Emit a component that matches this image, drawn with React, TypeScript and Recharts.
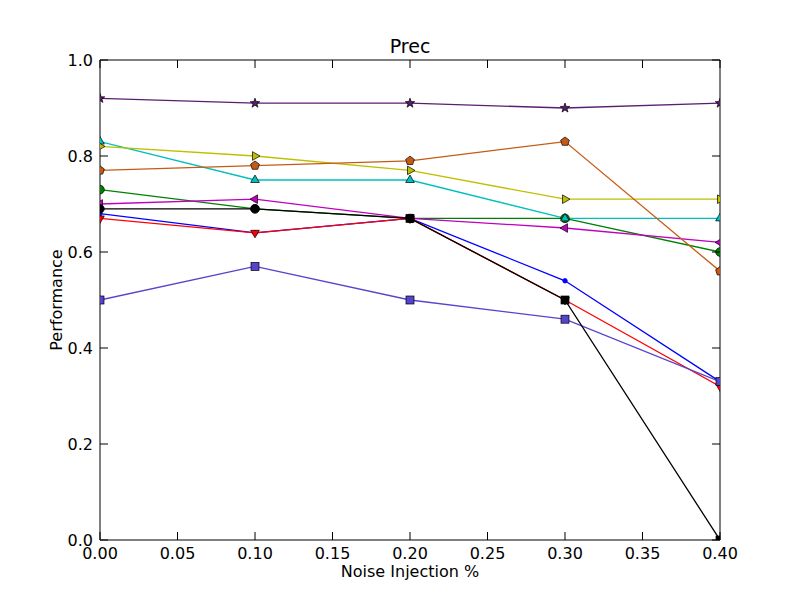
import React from 'react';
import { LineChart, Line, XAxis, YAxis } from 'recharts';

// noise injection levels on the x axis
const noise = [0.0, 0.1, 0.2, 0.3, 0.4];

// precision per series
const purpleStar = [0.92, 0.91, 0.91, 0.9, 0.91];
const yellowRight = [0.82, 0.8, 0.77, 0.71, 0.71];
const cyanUp = [0.83, 0.75, 0.75, 0.67, 0.67];
const orangePent = [0.77, 0.78, 0.79, 0.83, 0.56];
const greenCircle = [0.73, 0.69, 0.67, 0.67, 0.6];
const magentaLeft = [0.7, 0.71, 0.67, 0.65, 0.62];
const blackLine = [0.69, 0.69, 0.67, 0.5, 0.0];
const redDown = [0.67, 0.64, 0.67, 0.5, 0.32];
const bluePoint = [0.68, 0.64, 0.67, 0.54, 0.33];
const slateSquare = [0.5, 0.57, 0.5, 0.46, 0.33];

const xTicks = [0, 0.05, 0.1, 0.15, 0.2, 0.25, 0.3, 0.35, 0.4];
const yTicks = [0, 0.2, 0.4, 0.6, 0.8, 1.0];

const data = noise.map((n, i) => ({
  noise: n,
  purple: purpleStar[i],
  yellow: yellowRight[i],
  cyan: cyanUp[i],
  orange: orangePent[i],
  green: greenCircle[i],
  magenta: magentaLeft[i],
  black: blackLine[i],
  red: redDown[i],
  blue: bluePoint[i],
  slate: slateSquare[i],
}));

const FONT = '"DejaVu Sans", sans-serif';

// draw order matters: later ones sit on top
const series = [
  { key: 'blue', color: '#0000FF', shape: 'point' },
  { key: 'green', color: '#008000', shape: 'circle' },
  { key: 'red', color: '#FF0000', shape: 'down' },
  { key: 'cyan', color: '#00BFBF', shape: 'up' },
  { key: 'magenta', color: '#BF00BF', shape: 'left' },
  { key: 'yellow', color: '#BFBF00', shape: 'right' },
  { key: 'slate', color: '#5544CC', shape: 'square' },
  { key: 'orange', color: '#C65A14', shape: 'pentagon' },
  { key: 'purple', color: '#5A1E6E', shape: 'star' },
  { key: 'black', color: '#000000', shape: ['circle', 'circle', 'square', 'square', 'square'] },
];

// plot box inside the svg (margins + axis sizes below)
const PLOT = { x: 100, y: 60, w: 620, h: 480 };

function polyPoints(cx: number, cy: number, n: number, r: number, rot: number, inner?: number) {
  const pts: string[] = [];
  const count = inner ? n * 2 : n;
  for (let i = 0; i < count; i++) {
    const rr = inner && i % 2 === 1 ? inner : r;
    const a = rot + (i * 2 * Math.PI) / count;
    pts.push(`${cx + rr * Math.cos(a)},${cy + rr * Math.sin(a)}`);
  }
  return pts.join(' ');
}

function markerShape(s: string, cx: number, cy: number, color: string) {
  const edge = { fill: color, stroke: '#000', strokeWidth: 0.7 };
  const up = -Math.PI / 2;
  switch (s) {
    case 'point':
      return <circle cx={cx} cy={cy} r={2.2} fill={color} stroke={color} />;
    case 'circle':
      return <circle cx={cx} cy={cy} r={4.3} {...edge} />;
    case 'square':
      return <rect x={cx - 4} y={cy - 4} width={8} height={8} {...edge} />;
    case 'up':
      return <polygon points={polyPoints(cx, cy, 3, 5, up)} {...edge} />;
    case 'down':
      return <polygon points={polyPoints(cx, cy, 3, 5, Math.PI / 2)} {...edge} />;
    case 'left':
      return <polygon points={polyPoints(cx, cy, 3, 5, Math.PI)} {...edge} />;
    case 'right':
      return <polygon points={polyPoints(cx, cy, 3, 5, 0)} {...edge} />;
    case 'pentagon':
      return <polygon points={polyPoints(cx, cy, 5, 4.6, up)} {...edge} />;
    case 'star':
      return <polygon points={polyPoints(cx, cy, 5, 5, up, 2)} {...edge} />;
    default:
      return null;
  }
}

function markerFor(shape: any, color: string) {
  return (props: any) => {
    const { cx, cy, index } = props;
    const k = `m-${color}-${index}`;
    if (cx == null || cy == null) return <g key={k} />;
    const s = Array.isArray(shape) ? shape[index] : shape;
    return (
      <g key={k} clipPath="url(#plotClip)">
        {markerShape(s, cx, cy, color)}
      </g>
    );
  };
}

const tickText = { fontFamily: FONT, fontSize: 16, fill: '#000' };

const BottomTick = (props: any) => {
  const { x, y, payload } = props;
  return (
    <g>
      <line x1={x} y1={y} x2={x} y2={y - 8} stroke="#000" />
      <text x={x} y={y + 19} textAnchor="middle" {...tickText}>
        {Number(payload.value).toFixed(2)}
      </text>
    </g>
  );
};

const TopTick = (props: any) => {
  const { x, y } = props;
  return <line x1={x} y1={y} x2={x} y2={y + 8} stroke="#000" />;
};

const LeftTick = (props: any) => {
  const { x, y, payload } = props;
  return (
    <g>
      <line x1={x} y1={y} x2={x + 8} y2={y} stroke="#000" />
      <text x={x - 7} y={y + 6} textAnchor="end" {...tickText}>
        {Number(payload.value).toFixed(1)}
      </text>
    </g>
  );
};

const RightTick = (props: any) => {
  const { x, y } = props;
  return <line x1={x} y1={y} x2={x - 8} y2={y} stroke="#000" />;
};

export default function App() {
  return (
    <div style={{ position: 'absolute', left: 0, top: 0, width: 800, height: 600, background: '#fff' }}>
      <svg width={0} height={0} style={{ position: 'absolute' }}>
        <defs>
          <clipPath id="plotClip" clipPathUnits="userSpaceOnUse">
            <rect x={PLOT.x} y={PLOT.y} width={PLOT.w} height={PLOT.h} />
          </clipPath>
        </defs>
      </svg>
      <div
        style={{
          position: 'absolute',
          left: 0,
          width: 820,
          top: 35,
          textAlign: 'center',
          fontFamily: FONT,
          fontSize: 19,
          lineHeight: '22px',
        }}
      >
        Prec
      </div>
      <div
        style={{
          position: 'absolute',
          left: 0,
          width: 820,
          top: 562,
          textAlign: 'center',
          fontFamily: FONT,
          fontSize: 16,
          lineHeight: '20px',
        }}
      >
        Noise Injection %
      </div>
      <div
        style={{
          position: 'absolute',
          left: 57 - 100,
          top: 290,
          width: 200,
          textAlign: 'center',
          transform: 'rotate(-90deg)',
          fontFamily: FONT,
          fontSize: 16,
          lineHeight: '20px',
        }}
      >
        Performance
      </div>
      <LineChart
        width={800}
        height={600}
        data={data}
        margin={{ top: 50, right: 70, bottom: 30, left: 70 }}
        style={{ position: 'absolute', left: 0, top: 0 }}
      >
        <XAxis
          dataKey="noise"
          type="number"
          domain={[0, 0.4]}
          ticks={xTicks}
          allowDataOverflow
          height={30}
          tickSize={0}
          tickMargin={0}
          tick={BottomTick}
          axisLine={{ stroke: '#000' }}
          interval={0}
        />
        <XAxis
          xAxisId="top"
          orientation="top"
          dataKey="noise"
          type="number"
          domain={[0, 0.4]}
          ticks={xTicks}
          allowDataOverflow
          height={10}
          tickSize={0}
          tickMargin={0}
          tick={TopTick}
          axisLine={{ stroke: '#000' }}
          interval={0}
        />
        <YAxis
          type="number"
          domain={[0, 1]}
          ticks={yTicks}
          allowDataOverflow
          width={30}
          tickSize={0}
          tickMargin={0}
          tick={LeftTick}
          axisLine={{ stroke: '#000' }}
          interval={0}
        />
        <YAxis
          yAxisId="right"
          orientation="right"
          type="number"
          domain={[0, 1]}
          ticks={yTicks}
          allowDataOverflow
          width={10}
          tickSize={0}
          tickMargin={0}
          tick={RightTick}
          axisLine={{ stroke: '#000' }}
          interval={0}
        />
        {series.map((s) => (
          <Line
            key={s.key}
            dataKey={s.key}
            type="linear"
            stroke={s.color}
            strokeWidth={1.3}
            dot={markerFor(s.shape, s.color)}
            activeDot={false}
            isAnimationActive={false}
          />
        ))}
      </LineChart>
    </div>
  );
}
